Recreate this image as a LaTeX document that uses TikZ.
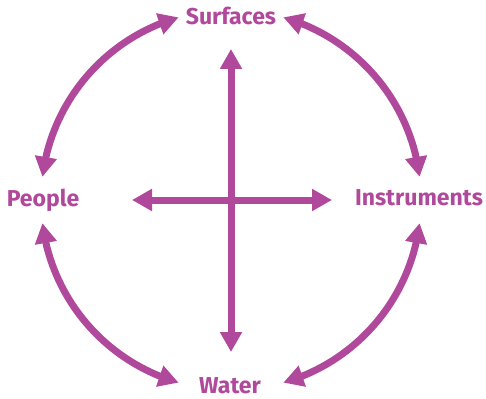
\documentclass[tikz,border=0pt]{standalone}
\usepackage{fontspec}
\setmainfont{Fira Sans}
\usetikzlibrary{arrows.meta,bending,calc}
\definecolor{plum}{HTML}{B0489C}
\begin{document}
\begin{tikzpicture}[x=1pt,y=-1pt,
  arr/.style={draw=plum,line width=7pt,{Triangle[width=21pt,length=20pt,flex]}-{Triangle[width=21pt,length=20pt,flex]}},
  lab/.style={text=plum,font=\fontsize{23}{26}\selectfont\bfseries,inner sep=0pt,anchor=base}]
\useasboundingbox (0,0) rectangle (486,398);
\coordinate (o) at (231,200);
\node[lab] (surf) at (231,25) {Surfaces};
\node[lab] (peop) at (43,206) {People};
\node[lab] (inst) at (419,205) {Instruments};
\node[lab] (wat) at (230,393) {Water};
% cross
\coordinate (ct) at (231,49);
\coordinate (cb) at (231,352);
\coordinate (cl) at (132,200);
\coordinate (cr) at (332,200);
\draw[arr] (ct) -- (cb);
\draw[arr] (cl) -- (cr);
% arcs (radius 190, center o; y axis flipped so angles mirrored)
\coordinate (a1) at ($(o)+(-106:190)$);
\coordinate (a2) at ($(o)+(-74:190)$);
\coordinate (a3) at ($(o)+(106:190)$);
\coordinate (a4) at ($(o)+(74:190)$);
\draw[arr] (a1) arc[start angle=-106,end angle=-173,radius=190];
\draw[arr] (a2) arc[start angle=-74,end angle=-7,radius=190];
\draw[arr] (a3) arc[start angle=106,end angle=173,radius=190];
\draw[arr] (a4) arc[start angle=74,end angle=7,radius=190];
\end{tikzpicture}
\end{document}
